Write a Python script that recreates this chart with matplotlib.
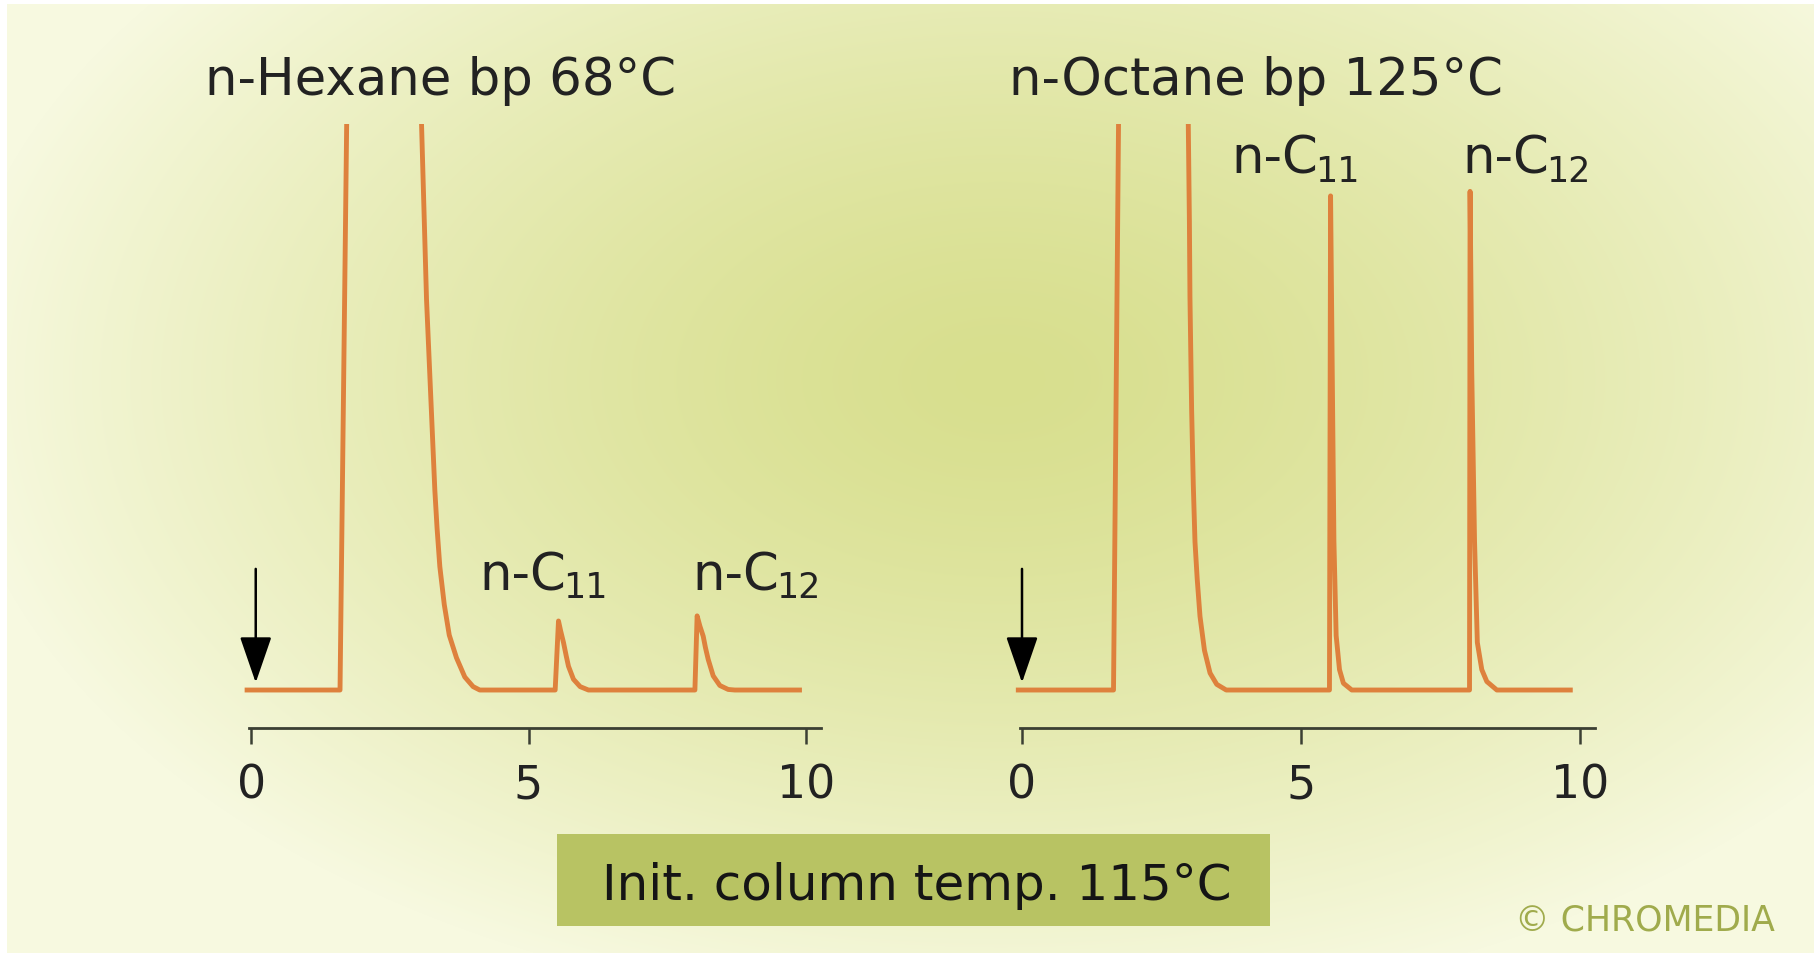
import numpy as np
import matplotlib
matplotlib.use("Agg")
import matplotlib.pyplot as plt
from matplotlib.patches import Rectangle

# ---------------------------------------------------------------------------
# Data (time in min, signal in % of panel top)
# ---------------------------------------------------------------------------
hex_time = [-0.12, 1.60, 1.72, 1.73, 3.06, 3.07, 3.16, 3.25, 3.31, 3.35, 3.40,
            3.48, 3.57, 3.70, 3.85, 4.00, 4.12,
            5.48, 5.54, 5.58, 5.63, 5.68, 5.72, 5.81, 5.93, 6.08,
            8.00, 8.04, 8.09, 8.15, 8.19, 8.24, 8.33, 8.45, 8.60, 8.72, 9.93]
hex_signal = [0, 0, 100, 140, 140, 100, 69.0, 48.8, 35.3, 28.6, 21.8,
              15.1, 9.7, 5.7, 2.3, 0.6, 0,
              0, 12.2, 10.4, 8.4, 6.0, 4.2, 1.9, 0.6, 0,
              0, 13.1, 11.3, 9.5, 7.5, 5.4, 2.5, 0.8, 0.1, 0, 0]

oct_time = [-0.11, 1.64, 1.73, 1.74, 2.97, 2.98, 3.00, 3.01, 3.04, 3.07, 3.10,
            3.14, 3.19, 3.27, 3.37, 3.49, 3.66,
            5.51, 5.53, 5.56, 5.59, 5.63, 5.69, 5.76, 5.91,
            8.02, 8.03, 8.06, 8.11, 8.16, 8.24, 8.33, 8.51, 9.87]
oct_signal = [0, 0, 100, 140, 140, 100, 82.7, 69.4, 49.5, 36.2, 26.2,
              19.6, 13.0, 7.0, 3.0, 1.0, 0,
              0, 87.3, 56.2, 26.3, 9.6, 3.6, 1.2, 0,
              0, 88.1, 56.2, 26.3, 8.4, 3.6, 1.5, 0, 0]

panel_titles = ["n-Hexane bp 68°C", "n-Octane bp 125°C"]
peak_names = ["n-C", "n-C"]
peak_subs = ["11", "12"]
tick_values = [0, 5, 10]
tick_labels = ["0", "5", "10"]
injection_time = [0.08, 0.0]

# ---------------------------------------------------------------------------
# Style
# ---------------------------------------------------------------------------
W, H = 1814, 954
TRACE_COLOR = "#de813d"
AXIS_COLOR = "#3b3f33"
TEXT_COLOR = "#222222"
BOX_COLOR = "#b8c363"
MARK_COLOR = "#a0ab4c"

plt.rcParams.update({
    "font.family": "DejaVu Sans",
})

fig = plt.figure(figsize=(W / 100, H / 100), dpi=100)

# background: soft elliptical yellow-green glow
bg = fig.add_axes([0, 0, 1, 1], zorder=0)
yy, xx = np.mgrid[0:H, 0:W]
r = np.sqrt(((xx - 1000) / 1050.0) ** 2 + ((yy - 380) / 640.0) ** 2)
f = np.clip(r, 0, 1) ** 1.4
inner = np.array([216, 223, 142]) / 255.0
outer = np.array([247, 249, 224]) / 255.0
img = inner + (outer - inner) * f[..., None]
img[:5, :, :] = 1.0
img[:, :7, :] = 1.0
bg.imshow(img, extent=[0, W, H, 0], aspect="auto", interpolation="bilinear")
bg.set_axis_off()

# panel geometry in pixels: (x of t=0, px per minute)
panels = [
    dict(x0=251.3, ppm=55.45, t=hex_time, s=hex_signal, bound=(-0.04, 10.27),
         title_t=-0.84, label_pos=[(4.11, 17.8), (7.95, 17.8)]),
    dict(x0=1022.0, ppm=55.8, t=oct_time, s=oct_signal, bound=(-0.04, 10.26),
         title_t=-0.23, label_pos=[(3.75, 91.4), (7.89, 91.4)]),
]

Y_BOTTOM, Y_TOP = 729, 125
YMIN, YMAX = -6.71, 100

renderer = fig.canvas.get_renderer()

for i, p in enumerate(panels):
    left_px = p["x0"] - 0.6 * p["ppm"]
    width_px = 11.2 * p["ppm"]
    ax = fig.add_axes([left_px / W, (H - Y_BOTTOM) / H,
                       width_px / W, (Y_BOTTOM - Y_TOP) / H], zorder=2)
    ax.patch.set_alpha(0)
    ax.set_xlim(-0.6, 10.6)
    ax.set_ylim(YMIN, YMAX)

    ax.plot(p["t"], p["s"], color=TRACE_COLOR, lw=3.5,
            solid_joinstyle="round", solid_capstyle="butt")

    # injection arrow
    ax.annotate("", xy=(injection_time[i], 1.3), xytext=(injection_time[i], 21.4),
                arrowprops=dict(arrowstyle="-|>,head_length=1.45,head_width=0.5",
                                color="black", lw=1.8, shrinkA=0, shrinkB=0,
                                mutation_scale=20))

    for sp in ["left", "top", "right"]:
        ax.spines[sp].set_visible(False)
    ax.spines["bottom"].set_color(AXIS_COLOR)
    ax.spines["bottom"].set_linewidth(2.0)
    ax.spines["bottom"].set_bounds(*p["bound"])
    ax.set_yticks([])
    ax.set_xticks(tick_values)
    ax.set_xticklabels(tick_labels)
    ax.tick_params(axis="x", direction="out", length=11.5, width=1.8,
                   color=AXIS_COLOR, labelsize=33, labelcolor=TEXT_COLOR, pad=13)

    ax.text(p["title_t"], 105.3, panel_titles[i], fontsize=37, color=TEXT_COLOR,
            ha="left", va="baseline")
    for name, sub, (lt, ls) in zip(peak_names, peak_subs, p["label_pos"]):
        main = ax.text(lt, ls, name, fontsize=37, color=TEXT_COLOR,
                       ha="left", va="baseline")
        bb = main.get_window_extent(renderer=renderer)
        # subscript placed just right of "n-C", slightly below its baseline
        base_px = ax.transData.transform((lt, ls))[1]
        fig.text((bb.x1 - 3) / W, (base_px - 8) / H, sub, fontsize=25,
                 color=TEXT_COLOR, ha="left", va="baseline", zorder=4)

# temperature box
fig.add_artist(Rectangle((557 / W, (H - 927) / H), 712.5 / W, 92 / H,
                         transform=fig.transFigure, facecolor=BOX_COLOR,
                         edgecolor="none", zorder=3))
fig.text(917 / W, (H - 900) / H, "Init. column temp. 115°C", fontsize=36,
         color="#151515", ha="center", va="baseline", zorder=4)

fig.text(1515 / W, (H - 931) / H, "© CHROMEDIA", fontsize=25,
         color=MARK_COLOR, ha="left", va="baseline", zorder=4)

fig.savefig("out.png", dpi=100)
